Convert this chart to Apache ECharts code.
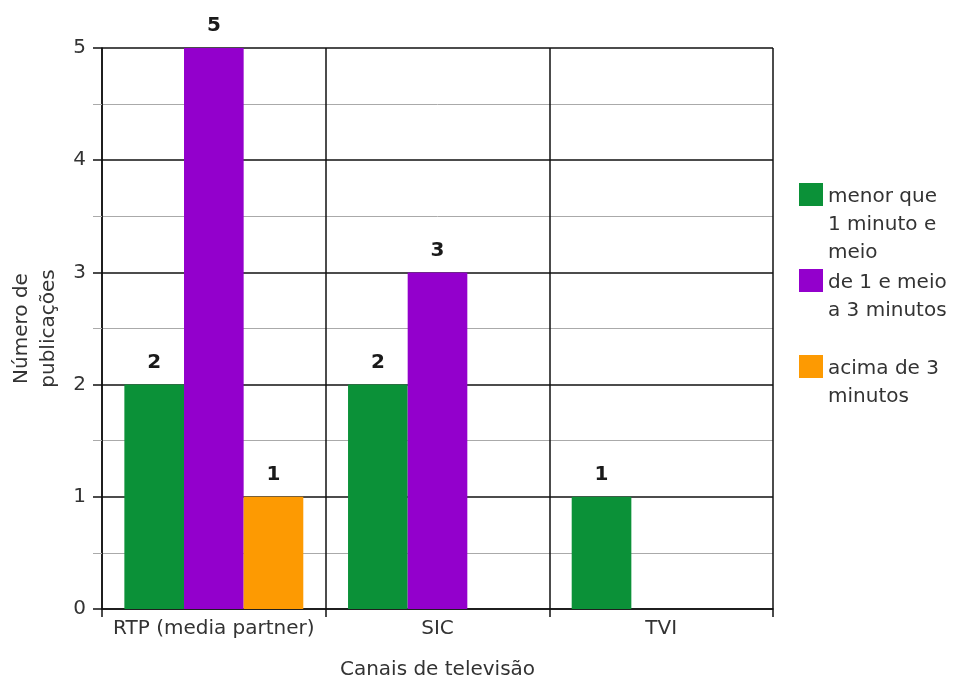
<!DOCTYPE html>
<html>
<head>
<meta charset="utf-8">
<script src="https://cdn.jsdelivr.net/npm/echarts@6/dist/echarts.min.js"></script>
<style>
html,body{margin:0;padding:0;background:#fff;overflow:hidden;}
#c{width:959px;height:679px;}
</style>
</head>
<body>
<div id="c"></div>
<script>
const categories = ['RTP (media partner)', 'SIC', 'TVI'];
const seriesNames = ['menor que\n1 minuto e\nmeio', 'de 1 e meio\na 3 minutos\n', 'acima de 3\nminutos\n'];
const valuesShort = [2, 2, 1];
const valuesMid = [5, 3, null];
const valuesLong = [1, null, null];
const yTicks = [0, 1, 2, 3, 4, 5];
const colors = ['#0b9138', '#9300cc', '#fd9a02'];

const FONT = 'DejaVu Sans';
const chart = echarts.init(document.getElementById('c'), null, {renderer: 'canvas', width: 959, height: 679});

const labelCfg = {
  show: true, position: 'top', distance: 12,
  color: '#1a1a1a', fontWeight: 'bold', fontSize: 20, fontFamily: FONT
};
const allValues = [valuesShort, valuesMid, valuesLong];
const legendIcon = 'path://M0,0H24V23H0Z M0,84H0.01V84.01Z';

chart.setOption({
  animation: false,
  backgroundColor: '#fff',
  grid: {left: 102, width: 671, top: 48, height: 561, containLabel: false, outerBoundsMode: 'none'},
  legend: {
    orient: 'vertical',
    left: 799, top: 183, padding: 0,
    itemWidth: 24, itemHeight: 84, itemGap: 2,
    icon: legendIcon,
    data: seriesNames,
    textStyle: {fontFamily: FONT, fontSize: 20, color: '#333', lineHeight: 28}
  },
  xAxis: {
    type: 'category',
    data: categories,
    boundaryGap: true,
    name: 'Canais de televisão',
    nameLocation: 'middle',
    nameGap: 51,
    nameTextStyle: {fontFamily: FONT, fontSize: 20, color: '#333'},
    axisLine: {show: true, lineStyle: {color: '#111', width: 1.5}},
    axisTick: {show: true, interval: 0, length: 8, lineStyle: {color: '#111', width: 1.5}},
    axisLabel: {interval: 0, fontFamily: FONT, fontSize: 20, color: '#333', margin: 10},
    splitLine: {show: true, interval: 0, lineStyle: {color: '#111', width: 1.5}}
  },
  yAxis: {
    type: 'value',
    min: yTicks[0], max: yTicks[yTicks.length - 1], interval: 1,
    name: 'Número de\npublicações',
    nameLocation: 'middle',
    nameGap: 40,
    nameTextStyle: {fontFamily: FONT, fontSize: 20, color: '#333', lineHeight: 27},
    axisLine: {show: true, lineStyle: {color: '#111', width: 1.5}},
    axisTick: {show: true, length: 9, lineStyle: {color: '#111', width: 1.5}},
    minorTick: {show: true, splitNumber: 2, length: 9, lineStyle: {color: '#aaa', width: 1}},
    axisLabel: {fontFamily: FONT, fontSize: 20, color: '#333', margin: 16},
    splitLine: {show: true, lineStyle: {color: '#111', width: 1.5}},
    minorSplitLine: {show: true, lineStyle: {color: '#aaa', width: 1}}
  },
  series: seriesNames.map((n, i) => ({
    name: n,
    type: 'bar',
    data: allValues[i],
    barGap: '0%',
    barCategoryGap: '20%',
    itemStyle: {color: colors[i]},
    label: labelCfg
  }))
});
</script>
</body>
</html>
